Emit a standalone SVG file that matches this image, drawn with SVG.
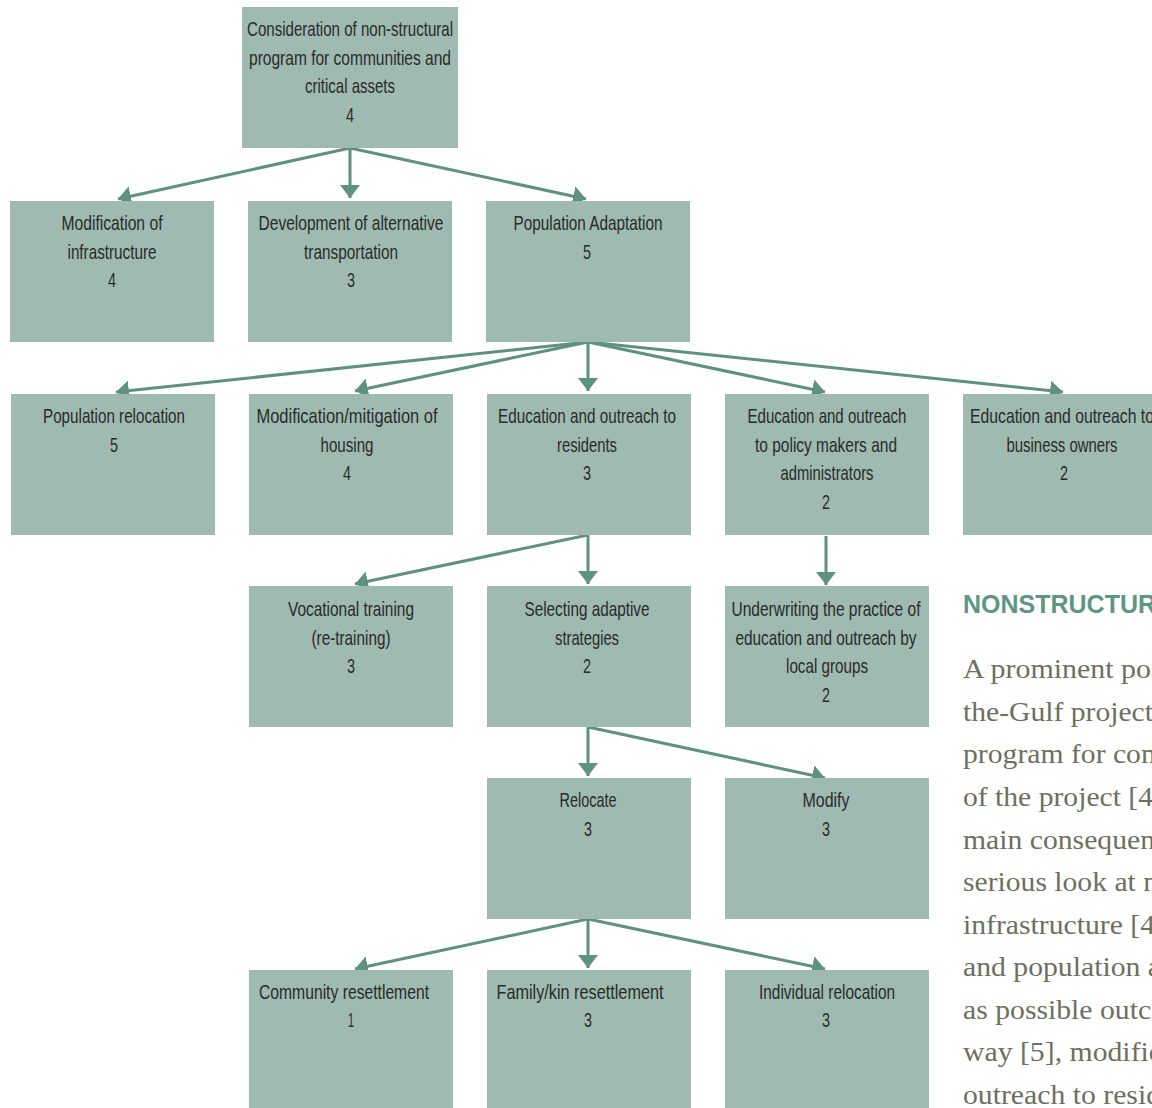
<svg xmlns="http://www.w3.org/2000/svg" width="1152" height="1108" viewBox="0 0 1152 1108">
<defs>
<style>
.box{fill:#9fbab0}
.t{font-family:"Liberation Sans",Arial,sans-serif;font-size:21px;fill:#2a2a2a;text-anchor:middle}
.c{stroke:#5f9180;stroke-width:3;fill:none;marker-end:url(#ah)}
.h{font-family:"Liberation Sans",Arial,sans-serif;font-size:25px;font-weight:bold;fill:#5f9683}
.b{font-family:"Liberation Serif","Times New Roman",serif;font-size:27px;fill:#6d6f60}
</style>
<marker id="ah" markerUnits="userSpaceOnUse" markerWidth="13" markerHeight="20" refX="13" refY="10" orient="auto">
<path d="M0,0 L13,10 L0,20 Z" fill="#5f9180"/>
</marker>
</defs>
<rect width="1152" height="1108" fill="#ffffff"/>

<g id="connectors">
<line class="c" x1="350" y1="148" x2="118" y2="199"/>
<line class="c" x1="350" y1="148" x2="350" y2="198"/>
<line class="c" x1="350" y1="148" x2="586" y2="199"/>
<line class="c" x1="588" y1="342" x2="116" y2="392"/>
<line class="c" x1="588" y1="342" x2="355" y2="391"/>
<line class="c" x1="588" y1="342" x2="588" y2="391"/>
<line class="c" x1="588" y1="342" x2="825" y2="392"/>
<line class="c" x1="588" y1="342" x2="1063" y2="392"/>
<line class="c" x1="588" y1="535" x2="355" y2="584"/>
<line class="c" x1="588" y1="535" x2="588" y2="584"/>
<line class="c" x1="826" y1="536" x2="826" y2="585"/>
<line class="c" x1="588" y1="727" x2="588" y2="776"/>
<line class="c" x1="588" y1="727" x2="825" y2="778"/>
<line class="c" x1="588" y1="919" x2="355" y2="969"/>
<line class="c" x1="588" y1="919" x2="588" y2="968"/>
<line class="c" x1="588" y1="919" x2="825" y2="969"/>
</g>

<g id="n0">
<rect class="box" x="242" y="7" width="216" height="141"/>
<text class="t" x="350" y="36" textLength="206" lengthAdjust="spacingAndGlyphs">Consideration of non-structural</text>
<text class="t" x="350" y="65" textLength="202" lengthAdjust="spacingAndGlyphs">program for communities and</text>
<text class="t" x="350" y="93" textLength="90" lengthAdjust="spacingAndGlyphs">critical assets</text>
<text class="t" x="350" y="122" textLength="8" lengthAdjust="spacingAndGlyphs">4</text>
</g>

<g id="n1">
<rect class="box" x="10" y="201" width="204" height="141"/>
<text class="t" x="112" y="230" textLength="101" lengthAdjust="spacingAndGlyphs">Modification of</text>
<text class="t" x="112" y="259" textLength="89" lengthAdjust="spacingAndGlyphs">infrastructure</text>
<text class="t" x="112" y="287" textLength="8" lengthAdjust="spacingAndGlyphs">4</text>
</g>

<g id="n2">
<rect class="box" x="248" y="201" width="204" height="141"/>
<text class="t" x="351" y="230" textLength="185" lengthAdjust="spacingAndGlyphs">Development of alternative</text>
<text class="t" x="351" y="259" textLength="94" lengthAdjust="spacingAndGlyphs">transportation</text>
<text class="t" x="351" y="287" textLength="8" lengthAdjust="spacingAndGlyphs">3</text>
</g>

<g id="n3">
<rect class="box" x="486" y="201" width="204" height="141"/>
<text class="t" x="588" y="230" textLength="149" lengthAdjust="spacingAndGlyphs">Population Adaptation</text>
<text class="t" x="587" y="259" textLength="8" lengthAdjust="spacingAndGlyphs">5</text>
</g>

<g id="n4">
<rect class="box" x="11" y="394" width="204" height="141"/>
<text class="t" x="114" y="423" textLength="142" lengthAdjust="spacingAndGlyphs">Population relocation</text>
<text class="t" x="114" y="452" textLength="8" lengthAdjust="spacingAndGlyphs">5</text>
</g>

<g id="n5">
<rect class="box" x="249" y="394" width="204" height="141"/>
<text class="t" x="347" y="423" textLength="181" lengthAdjust="spacingAndGlyphs">Modification/mitigation of</text>
<text class="t" x="347" y="452" textLength="53" lengthAdjust="spacingAndGlyphs">housing</text>
<text class="t" x="347" y="480" textLength="8" lengthAdjust="spacingAndGlyphs">4</text>
</g>

<g id="n6">
<rect class="box" x="487" y="394" width="204" height="141"/>
<text class="t" x="587" y="423" textLength="178" lengthAdjust="spacingAndGlyphs">Education and outreach to</text>
<text class="t" x="587" y="452" textLength="60" lengthAdjust="spacingAndGlyphs">residents</text>
<text class="t" x="587" y="480" textLength="8" lengthAdjust="spacingAndGlyphs">3</text>
</g>

<g id="n7">
<rect class="box" x="725" y="394" width="204" height="141"/>
<text class="t" x="827" y="423" textLength="159" lengthAdjust="spacingAndGlyphs">Education and outreach</text>
<text class="t" x="826" y="452" textLength="142" lengthAdjust="spacingAndGlyphs">to policy makers and</text>
<text class="t" x="827" y="480" textLength="93" lengthAdjust="spacingAndGlyphs">administrators</text>
<text class="t" x="826" y="509" textLength="8" lengthAdjust="spacingAndGlyphs">2</text>
</g>

<g id="n8">
<rect class="box" x="963" y="394" width="204" height="141"/>
<text class="t" x="1062" y="423" textLength="184" lengthAdjust="spacingAndGlyphs">Education and outreach to</text>
<text class="t" x="1062" y="452" textLength="111" lengthAdjust="spacingAndGlyphs">business owners</text>
<text class="t" x="1064" y="480" textLength="8" lengthAdjust="spacingAndGlyphs">2</text>
</g>

<g id="n9">
<rect class="box" x="249" y="586" width="204" height="141"/>
<text class="t" x="351" y="616" textLength="126" lengthAdjust="spacingAndGlyphs">Vocational training</text>
<text class="t" x="351" y="645" textLength="79" lengthAdjust="spacingAndGlyphs">(re-training)</text>
<text class="t" x="351" y="673" textLength="8" lengthAdjust="spacingAndGlyphs">3</text>
</g>

<g id="n10">
<rect class="box" x="487" y="586" width="204" height="141"/>
<text class="t" x="587" y="616" textLength="125" lengthAdjust="spacingAndGlyphs">Selecting adaptive</text>
<text class="t" x="587" y="645" textLength="64" lengthAdjust="spacingAndGlyphs">strategies</text>
<text class="t" x="587" y="673" textLength="8" lengthAdjust="spacingAndGlyphs">2</text>
</g>

<g id="n11">
<rect class="box" x="725" y="586" width="204" height="141"/>
<text class="t" x="826" y="616" textLength="189" lengthAdjust="spacingAndGlyphs">Underwriting the practice of</text>
<text class="t" x="826" y="645" textLength="181" lengthAdjust="spacingAndGlyphs">education and outreach by</text>
<text class="t" x="827" y="673" textLength="82" lengthAdjust="spacingAndGlyphs">local groups</text>
<text class="t" x="826" y="702" textLength="8" lengthAdjust="spacingAndGlyphs">2</text>
</g>

<g id="n12">
<rect class="box" x="487" y="778" width="204" height="141"/>
<text class="t" x="588" y="807" textLength="57" lengthAdjust="spacingAndGlyphs">Relocate</text>
<text class="t" x="588" y="836" textLength="8" lengthAdjust="spacingAndGlyphs">3</text>
</g>

<g id="n13">
<rect class="box" x="725" y="778" width="204" height="141"/>
<text class="t" x="826" y="807" textLength="47" lengthAdjust="spacingAndGlyphs">Modify</text>
<text class="t" x="826" y="836" textLength="8" lengthAdjust="spacingAndGlyphs">3</text>
</g>

<g id="n14">
<rect class="box" x="249" y="970" width="204" height="141"/>
<text class="t" x="344" y="999" textLength="170" lengthAdjust="spacingAndGlyphs">Community resettlement</text>
<text class="t" x="351" y="1027" textLength="6" lengthAdjust="spacingAndGlyphs">1</text>
</g>

<g id="n15">
<rect class="box" x="487" y="970" width="204" height="141"/>
<text class="t" x="580" y="999" textLength="167" lengthAdjust="spacingAndGlyphs">Family/kin resettlement</text>
<text class="t" x="588" y="1027" textLength="8" lengthAdjust="spacingAndGlyphs">3</text>
</g>

<g id="n16">
<rect class="box" x="725" y="970" width="204" height="141"/>
<text class="t" x="827" y="999" textLength="136" lengthAdjust="spacingAndGlyphs">Individual relocation</text>
<text class="t" x="826" y="1027" textLength="8" lengthAdjust="spacingAndGlyphs">3</text>
</g>

<g id="sidetext">
<text class="h" x="963" y="613" textLength="193" lengthAdjust="spacingAndGlyphs">NONSTRUCTUR</text>
<text class="b" x="963" y="678" textLength="188" lengthAdjust="spacingAndGlyphs">A prominent po</text>
<text class="b" x="963" y="721" textLength="190" lengthAdjust="spacingAndGlyphs">the-Gulf project</text>
<text class="b" x="963" y="763" textLength="201" lengthAdjust="spacingAndGlyphs">program for com</text>
<text class="b" x="963" y="806" textLength="190" lengthAdjust="spacingAndGlyphs">of the project [4</text>
<text class="b" x="963" y="849" textLength="192" lengthAdjust="spacingAndGlyphs">main consequen</text>
<text class="b" x="963" y="891" textLength="195" lengthAdjust="spacingAndGlyphs">serious look at n</text>
<text class="b" x="963" y="934" textLength="192" lengthAdjust="spacingAndGlyphs">infrastructure [4</text>
<text class="b" x="963" y="976" textLength="198" lengthAdjust="spacingAndGlyphs">and population a</text>
<text class="b" x="963" y="1019" textLength="203" lengthAdjust="spacingAndGlyphs">as possible outco</text>
<text class="b" x="963" y="1061" textLength="199" lengthAdjust="spacingAndGlyphs">way [5], modific</text>
<text class="b" x="963" y="1104" textLength="198" lengthAdjust="spacingAndGlyphs">outreach to resid</text>
</g>
</svg>
